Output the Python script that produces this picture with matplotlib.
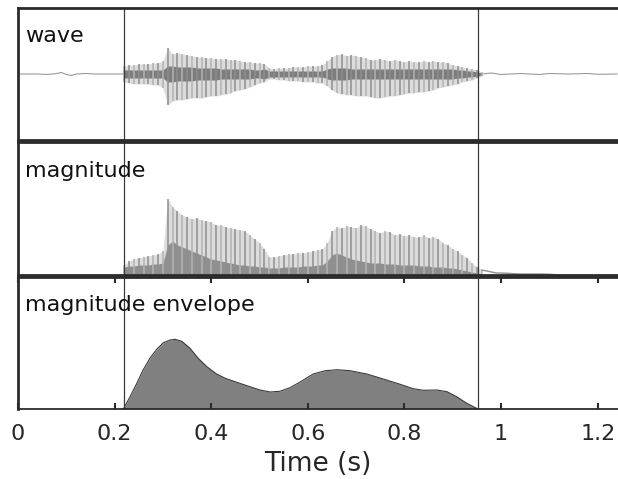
import numpy as np
import matplotlib.pyplot as plt

# voiced region, sampled every 10 ms
t_voiced = np.round(np.arange(0.22, 0.965, 0.01), 2)

wave_upper = [8, 9, 9, 10, 10, 10, 11, 11, 13, 26,
              20, 21, 20, 19, 18, 17, 17, 16, 16, 15,
              15, 15, 14, 14, 13, 12, 12, 11, 11, 10,
              6, 5, 6, 6, 6, 7, 7, 7, 8, 8,
              8, 9, 13, 17, 19, 20, 18, 19, 18, 17,
              16, 14, 14, 15, 14, 13, 14, 13, 12, 13,
              12, 12, 13, 12, 13, 12, 12, 11, 9, 8,
              7, 6, 5, 4, 2]
wave_lower = [8, 9, 10, 10, 10, 10, 11, 11, 14, 31,
              27, 26, 26, 25, 24, 24, 24, 23, 22, 22,
              21, 20, 19, 17, 16, 15, 13, 11, 9, 8,
              5, 5, 6, 6, 7, 7, 7, 8, 8, 8,
              9, 9, 12, 16, 19, 20, 21, 21, 22, 22,
              22, 23, 24, 24, 23, 22, 22, 21, 20, 19,
              19, 18, 18, 17, 16, 14, 13, 12, 11, 10,
              8, 7, 6, 4, 2]
wave_core = [4, 4, 4, 4, 4, 4, 4, 4, 4,
             8, 8, 7, 7, 7, 7, 6, 6, 6, 6,
             6, 5, 5, 5, 5, 5, 5, 5, 4, 4, 5,
             3, 3, 3, 3, 3, 3, 3, 3, 3, 3, 3, 3,
             5, 6, 6, 6, 6, 5, 5, 5, 5, 5, 5, 5,
             5, 5, 5, 5, 5, 5, 5, 5, 5, 5, 5, 5, 5, 5, 5,
             4, 4, 3, 3, 2, 1]

mag_light = [10, 14, 16, 17, 18, 19, 20, 21, 24, 76,
             68, 64, 60, 58, 56, 57, 55, 54, 53, 50,
             50, 48, 47, 46, 45, 44, 40, 36, 32, 26,
             18, 18, 19, 20, 21, 21, 22, 22, 23, 24,
             25, 26, 32, 44, 48, 47, 49, 48, 47, 50,
             49, 46, 44, 42, 44, 43, 40, 41, 39, 40,
             38, 38, 40, 37, 38, 36, 32, 30, 26, 24,
             20, 17, 12, 8, 5]
mag_dark = [8, 9, 9, 10, 10, 10, 11, 11, 12,
            30, 34, 30, 28, 26, 24, 22, 20, 18, 16,
            15, 14, 13, 12, 11, 10, 10, 9, 9, 8, 8,
            7, 7, 7, 8, 8, 8, 8, 9, 9, 9, 10, 10,
            14, 20, 22, 20, 18, 16, 15, 14, 13, 12, 12, 12,
            11, 11, 11, 10, 10, 10, 10, 9, 9, 9, 8, 8, 8, 7, 7,
            6, 5, 4, 3, 2, 1]

# silent parts of the wave and the tail of the magnitude
t_pre = [0, 0.04, 0.06, 0.08, 0.09, 0.1, 0.11, 0.12, 0.14, 0.16, 0.2, 0.22]
wave_pre = [0, 0, -0.5, 0.5, 1.5, -0.5, -1.5, 0, 0.5, 0, 0, 0]
t_post = [0.96, 0.98, 1.0, 1.04, 1.08, 1.1, 1.14, 1.18, 1.2, 1.24]
wave_post = [0, 1, -0.5, 0.5, -0.5, 0.5, 0, 0.5, -0.3, 0]
t_tail = [0.96, 0.97, 0.98, 0.99, 1.0, 1.02, 1.04, 1.06, 1.08, 1.1, 1.12]
mag_tail = [5, 4, 3, 2, 2, 1.5, 1, 1, 1, 0.8, 0]

# smoothed magnitude envelope
t_env = [0.218, 0.232, 0.246, 0.259, 0.273, 0.287, 0.301, 0.315, 0.325, 0.339,
         0.356, 0.373, 0.391, 0.411, 0.429, 0.453, 0.480, 0.501, 0.522, 0.542,
         0.563, 0.584, 0.611, 0.636, 0.660, 0.687, 0.722, 0.756, 0.791, 0.818,
         0.839, 0.867, 0.888, 0.908, 0.929, 0.952]
env = [0, 12.3, 25.7, 39, 50.7, 59.7, 66.3, 69, 69.7, 67.7,
       60.7, 50.7, 42.3, 35, 30.7, 26.7, 22.3, 19, 17, 17.7,
       21.3, 27, 35, 38.3, 39.3, 38.3, 35, 30, 24.7, 20.3,
       18.7, 19, 17.3, 12.3, 5.7, 0]

boundaries = [0.219, 0.953]
xticks = [0, 0.2, 0.4, 0.6, 0.8, 1, 1.2]
xticklabels = ['0', '0.2', '0.4', '0.6', '0.8', '1', '1.2']

fig = plt.figure(figsize=(6.18, 4.79), dpi=100)
W, H = 618, 479
left = 18 / W
panels = [(8, 140), (142, 275), (277, 409)]
axes = []
for top, bot in panels:
    ax = fig.add_axes([left, 1 - bot / H, 1 - left, (bot - top) / H])
    for s in ['top', 'bottom', 'left']:
        ax.spines[s].set_linewidth(2)
        ax.spines[s].set_color('#2b2b2b')
    ax.spines['right'].set_visible(False)
    ax.set_xlim(0, 1.242)
    axes.append(ax)

ax1, ax2, ax3 = axes
ax3.spines['bottom'].set_linewidth(1.3)
light, mid, dark = '#b3b3b3', '#8f8f8f', '#7d7d7d'
haze = '#dcdcdc'
stripe_cols = [light if i % 2 == 0 else mid for i in range(len(t_voiced))]

# wave
ax1.plot(t_pre, wave_pre, color='#999999', lw=0.8)
ax1.plot(t_post, wave_post, color='#999999', lw=0.8)
ax1.fill_between(t_voiced, -np.array(wave_lower), wave_upper, color=haze, lw=0)
ax1.vlines(t_voiced, -np.array(wave_lower), wave_upper, colors=stripe_cols, lw=1.1)
core = np.array(wave_core)
ax1.fill_between(t_voiced, -core, core, color=dark, lw=0)
ax1.set_ylim(-66, 66)

# magnitude
ax2.fill_between(t_voiced, 0, mag_light, color=haze, lw=0)
ax2.vlines(t_voiced, 0, mag_light, colors=stripe_cols, lw=1.1)
ax2.fill_between(t_voiced, 0, mag_dark, color=mid, lw=0)
ax2.plot(t_tail, mag_tail, color=mid, lw=1)
ax2.set_ylim(0, 133)

# envelope
ax3.fill_between(t_env, 0, env, color='#808080', lw=0)
ax3.plot(t_env, env, color='#3a3a3a', lw=0.8)
ax3.set_ylim(0, 132)

labels = ['wave', 'magnitude', 'magnitude envelope']
for ax, lab in zip(axes, labels):
    for b in boundaries:
        ax.axvline(b, color='#3a3a3a', lw=0.9)
    ax.text(0.012, 0.74, lab, transform=ax.transAxes, fontsize=16,
            va='baseline', ha='left', color='#111111')
    ax.set_yticks([])

for ax in (ax1, ax2):
    ax.set_xticks([])

ax3.set_xticks(xticks)
ax3.set_xticklabels(xticklabels)
ax3.tick_params(axis='x', direction='in', top=True, length=4, width=1.5,
                color='#2b2b2b', labelsize=16, labelcolor='#262626', pad=11)
ax3.set_xlabel('Time (s)', fontsize=19, color='#262626', labelpad=5)

fig.savefig('out.png', dpi=100)
